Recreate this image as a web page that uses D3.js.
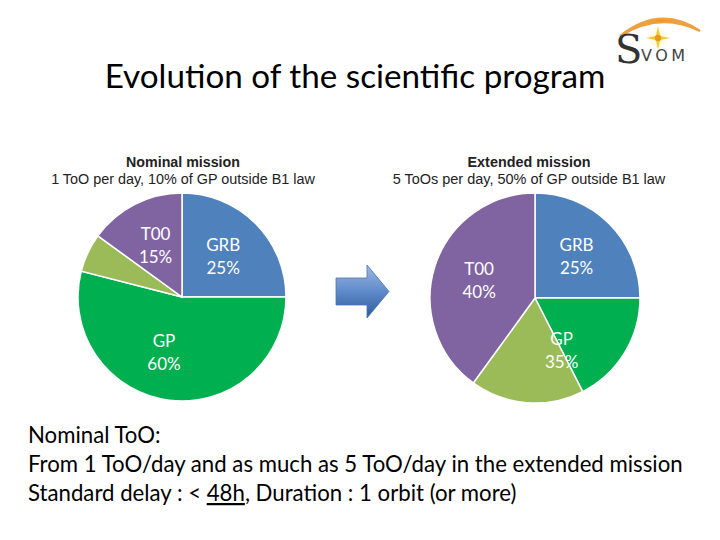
<!DOCTYPE html>
<html><head><meta charset="utf-8">
<script src="https://cdn.jsdelivr.net/npm/d3@7"></script>
<style>html,body{margin:0;padding:0;background:#fff;}svg{display:block;}</style>
</head><body>
<svg id="c" width="720" height="540"></svg>
<script>
// ---- data ----
const slices = ["GRB", "GP (B1 law)", "GP (outside B1 law)", "T00"];
const nominalValues = [25, 54, 6, 15];
const extendedValues = [25, 17.5, 17.5, 40];
const labelGroups = ["GRB", "GP", "T00"];
const groupOf = [0, 1, 1, 2];
const pieTitles = ["Nominal mission", "Extended mission"];
const pieSubtitles = ["1 ToO per day, 10% of GP outside B1 law", "5 ToOs per day, 50% of GP outside B1 law"];
const mainTitle = "Evolution of the scientific program";
const notes = ["Nominal ToO:", "From 1 ToO/day and as much as 5 ToO/day in the extended mission"];
const colors = ["#4F81BD", "#00B050", "#9BBB59", "#8064A2"];

const svg = d3.select("#c");
svg.append("rect").attr("width", 720).attr("height", 540).attr("fill", "#fff");

function fit(sel, target) {
  const w = sel.node().getComputedTextLength();
  const fs = parseFloat(sel.attr("font-size"));
  sel.attr("font-size", fs * target / w);
  return fs * target / w;
}

// title
const tt = svg.append("text").attr("x", 355).attr("y", 88).attr("text-anchor", "middle")
  .attr("font-family", "Lato, 'Open Sans', sans-serif").attr("font-size", 30).attr("fill", "#000")
  .text(mainTitle);
fit(tt, 501);

const color = d3.scaleOrdinal().domain(slices).range(colors);
const pie = d3.pie().sort(null).value(d => d.v);

function drawPie(cx, cy, R, values, title, subtitle, titleX, w1, w2) {
  const g = svg.append("g").attr("transform", `translate(${cx},${cy})`);
  const data = slices.map((s, i) => ({ s, v: values[i] }));
  const arcs = pie(data);
  const arc = d3.arc().innerRadius(0).outerRadius(R);
  g.selectAll("path").data(arcs).join("path")
    .attr("d", arc).attr("fill", d => color(d.data.s))
    .attr("stroke", "#fff").attr("stroke-width", 1.5);
  const labelArc = d3.arc().innerRadius(R * 0.56).outerRadius(R * 0.56);
  labelGroups.forEach((lg, gi) => {
    const parts = arcs.filter((a, i) => groupOf[i] === gi);
    const start = d3.min(parts, p => p.startAngle), end = d3.max(parts, p => p.endAngle);
    const total = d3.sum(parts, p => p.value);
    const [x, y] = labelArc.centroid({ startAngle: start, endAngle: end });
    const t = g.append("text").attr("text-anchor", "middle")
      .attr("font-family", "Lato, 'Open Sans', sans-serif").attr("font-size", 17).attr("fill", "#fff");
    t.append("tspan").attr("x", x).attr("y", y - 5).text(lg);
    t.append("tspan").attr("x", x).attr("y", y + 18).text(d3.format(".0f")(total) + "%");
  });
  const t1 = svg.append("text").attr("x", titleX).attr("y", 167).attr("text-anchor", "middle")
    .attr("font-family", "'Liberation Sans', Arial, sans-serif").attr("font-weight", "bold")
    .attr("font-size", 13).attr("fill", "#222").text(title);
  const t2 = svg.append("text").attr("x", titleX).attr("y", 184).attr("text-anchor", "middle")
    .attr("font-family", "'Liberation Sans', Arial, sans-serif")
    .attr("font-size", 13).attr("fill", "#222").text(subtitle);
  fit(t1, w1); fit(t2, w2);
}
drawPie(182, 297, 104, nominalValues, pieTitles[0], pieSubtitles[0], 183, 114, 264);
drawPie(535, 298, 105, extendedValues, pieTitles[1], pieSubtitles[1], 529, 123, 273);

// arrow
const defs = svg.append("defs");
const grad = defs.append("linearGradient").attr("id", "ag").attr("x1", 0).attr("y1", 0).attr("x2", 0).attr("y2", 1);
grad.append("stop").attr("offset", 0).attr("stop-color", "#9DB9E2");
grad.append("stop").attr("offset", 0.5).attr("stop-color", "#5F8ACB");
grad.append("stop").attr("offset", 1).attr("stop-color", "#2E5A96");
svg.append("path")
  .attr("d", "M336,278 L367,278 L367,265 L389,291.5 L367,318 L367,305 L336,305 Z")
  .attr("fill", "url(#ag)").attr("stroke", "#4A74B0").attr("stroke-width", 0.8);

// logo
const logo = svg.append("g");
const lg2 = defs.append("linearGradient").attr("id", "og").attr("x1", 0).attr("x2", 1);
lg2.append("stop").attr("offset", 0).attr("stop-color", "#F6C667");
lg2.append("stop").attr("offset", 0.5).attr("stop-color", "#E8922A");
lg2.append("stop").attr("offset", 1).attr("stop-color", "#F3B459");
logo.append("path").attr("d", "M620,36 Q660,4 700,31 Q660,11 620,36 Z")
  .attr("fill", "url(#og)").attr("stroke", "#EDA040").attr("stroke-width", 2.2);
const glow = defs.append("radialGradient").attr("id", "gl");
glow.append("stop").attr("offset", 0).attr("stop-color", "#FFF3B0").attr("stop-opacity", 1);
glow.append("stop").attr("offset", 1).attr("stop-color", "#FFF8D8").attr("stop-opacity", 0);
logo.append("circle").attr("cx", 658).attr("cy", 38).attr("r", 12).attr("fill", "url(#gl)");
const star = d3.range(8).map(i => {
  const a = i * Math.PI / 4 - Math.PI / 2, r = i % 2 ? 3 : 12;
  return [658 + r * Math.cos(a), 38 + r * Math.sin(a)];
});
logo.append("path").attr("d", d3.line()(star) + "Z").attr("fill", "#F5C930");
logo.append("circle").attr("cx", 658).attr("cy", 38).attr("r", 3.2).attr("fill", "#E89A1E");
logo.append("text").attr("x", 615).attr("y", 63).attr("font-family", "'DejaVu Serif', serif")
  .attr("font-size", 40).attr("fill", "#333").text("S");
logo.append("text").attr("x", 641).attr("y", 61).attr("font-family", "'DejaVu Sans', sans-serif")
  .attr("font-size", 16).attr("letter-spacing", 3.5).attr("fill", "#444").text("VOM");

// notes
const nf = "Lato, 'Open Sans', sans-serif";
const l2 = svg.append("text").attr("x", 28).attr("y", 472)
  .attr("font-family", nf).attr("font-size", 20).attr("fill", "#000").text(notes[1]);
const noteSize = fit(l2, 655);
svg.append("text").attr("x", 28).attr("y", 443)
  .attr("font-family", nf).attr("font-size", noteSize).attr("fill", "#000").text(notes[0]);
const t3 = svg.append("text").attr("x", 28).attr("y", 501)
  .attr("font-family", nf).attr("font-size", noteSize).attr("fill", "#000");
t3.append("tspan").text("Standard delay : < ");
t3.append("tspan").attr("text-decoration", "underline").text("48h");
t3.append("tspan").text(", Duration : 1 orbit (or more)");
</script>
</body></html>
